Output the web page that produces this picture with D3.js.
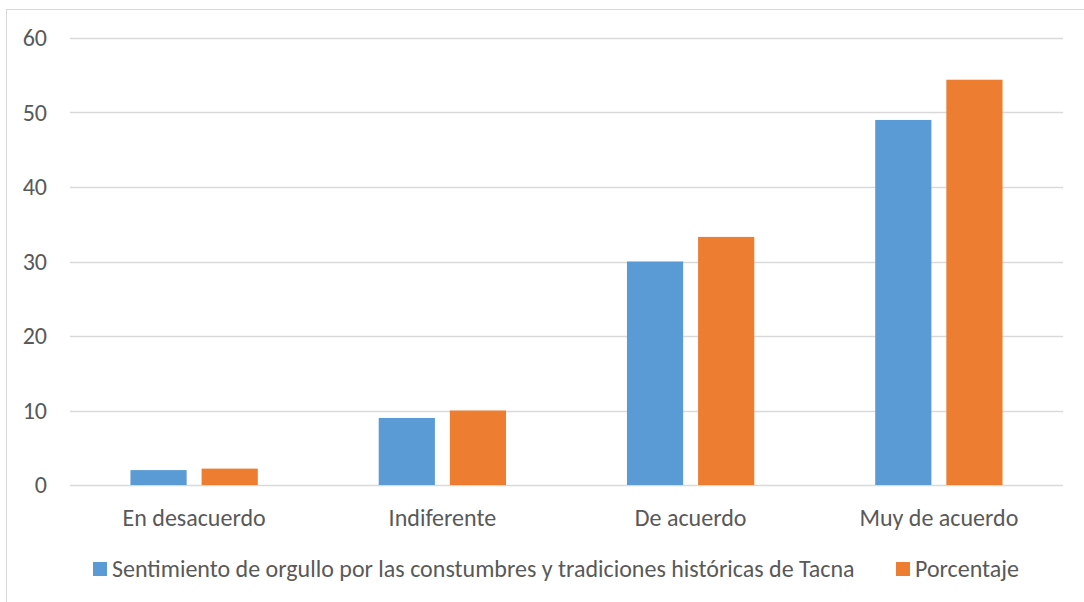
<!DOCTYPE html>
<html>
<head>
<meta charset="utf-8">
<script src="https://cdn.jsdelivr.net/npm/d3@7"></script>
<style>
  html, body { margin: 0; padding: 0; background: #fff; }
  svg { display: block; }
  text { font-family: Carlito, "Open Sans", sans-serif; fill: #595959; }
</style>
</head>
<body>
<svg id="chart" width="1084" height="602"></svg>
<script>
// Categories and series values
const categories = ["En desacuerdo", "Indiferente", "De acuerdo", "Muy de acuerdo"];
const seriesNames = ["Sentimiento de orgullo por las constumbres y tradiciones históricas de Tacna", "Porcentaje"];
const frecuencia = [2, 9, 30, 49];
const porcentaje = [2.2, 10, 33.3, 54.4];
const yTicks = [0, 10, 20, 30, 40, 50, 60];
const colors = ["#5b9bd5", "#ed7d31"];

const fontFamily = "Carlito, 'Open Sans', sans-serif";
const fontSize = "24px";

const svg = d3.select("#chart");

// Chart frame
svg.append("rect")
  .attr("x", 6.5).attr("y", 9.5)
  .attr("width", 1100).attr("height", 620)
  .attr("fill", "#fff").attr("stroke", "#d9d9d9").attr("stroke-width", 1);

const plot = { left: 70, right: 1063, top: 38, bottom: 485 };

const x = d3.scaleBand().domain(categories).range([plot.left, plot.right]).paddingInner(0).paddingOuter(0);
const y = d3.scaleLinear().domain([0, 60]).range([plot.bottom, plot.top]);
const inner = d3.scaleBand().domain([0, 1]).range([0, x.bandwidth()]).paddingInner(0.21).paddingOuter(0.85);

// Gridlines
svg.append("g").selectAll("line").data(yTicks).join("line")
  .attr("x1", plot.left).attr("x2", plot.right)
  .attr("y1", d => Math.round(y(d)) + 0.5).attr("y2", d => Math.round(y(d)) + 0.5)
  .attr("stroke", "#d9d9d9").attr("stroke-width", 1.3);

// Y axis labels
const yAxis = d3.axisLeft(y).tickValues(yTicks).tickSize(0).tickPadding(0);
const gy = svg.append("g").attr("transform", `translate(${47},0)`).call(yAxis);
gy.select(".domain").remove();
gy.selectAll("text").style("font-size", fontSize).attr("fill", "#595959")
  .style("font-family", fontFamily);

// Bars
const series = [frecuencia, porcentaje];
series.forEach((vals, s) => {
  svg.append("g").selectAll("rect").data(categories).join("rect")
    .attr("x", (c) => x(c) + inner(s))
    .attr("width", inner.bandwidth())
    .attr("y", (c, i) => y(vals[i]))
    .attr("height", (c, i) => y(0) - y(vals[i]))
    .attr("fill", colors[s]);
});

// X axis labels
const xAxis = d3.axisBottom(x).tickSize(0).tickPadding(0);
const gx = svg.append("g").attr("transform", `translate(0,${plot.bottom + 33})`).call(xAxis);
gx.select(".domain").remove();
gx.selectAll("text").style("font-size", fontSize).attr("fill", "#595959")
  .style("font-family", fontFamily)
  .attr("dy", "0.32em");

// Legend
const legend = svg.append("g");
const legendItems = [
  { name: seriesNames[0], color: colors[0], mx: 93 },
  { name: seriesNames[1], color: colors[1], mx: 896 }
];
legendItems.forEach(it => {
  legend.append("rect").attr("x", it.mx).attr("y", 562).attr("width", 14).attr("height", 14).attr("fill", it.color);
  legend.append("text").attr("x", it.mx + 19).attr("y", 569).attr("dy", "0.32em")
    .style("font-size", fontSize).style("font-family", fontFamily).text(it.name);
});
</script>
</body>
</html>
